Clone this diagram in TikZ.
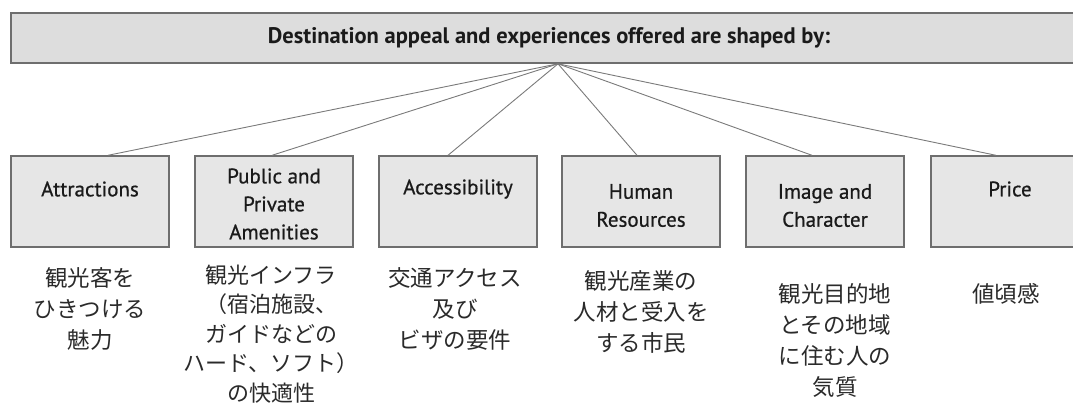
\documentclass[tikz,border=0pt]{standalone}
\usepackage{fontspec}
\setmainfont{PT Sans}
\newfontface\lblfont{PT Sans}[FakeBold=0.7]
\newfontfamily\jp{Noto Sans CJK JP}
\definecolor{boxfill}{HTML}{E6E6E6}
\definecolor{bannerfill}{HTML}{DDDDDD}
\definecolor{boxline}{HTML}{6E6E6E}
\definecolor{conn}{HTML}{7A7A7A}
\definecolor{txt}{HTML}{1A1A1A}
\definecolor{jtxt}{HTML}{2A2A2A}
\begin{document}
\begin{tikzpicture}[x=1pt,y=-1pt,
  box/.style={draw=boxline,line width=1.4pt,fill=boxfill,minimum width=158pt,minimum height=91pt,inner sep=0pt},
  banner/.style={draw=boxline,line width=1.6pt,fill=bannerfill,minimum width=1094pt,minimum height=50pt,inner sep=0pt},
  lbl/.style={align=center,text=txt,font=\lblfont\fontsize{21}{28}\selectfont,inner sep=0pt},
  jlbl/.style={align=center,text=jtxt,font=\jp\fontsize{22.5}{31}\selectfont,inner sep=0pt},
  conn/.style={draw=conn,line width=0.9pt}]
\useasboundingbox (0,0) rectangle (1073,408);
\clip (0,0) rectangle (1073,408);
\node[banner] (banner) at (558,38) {};
\node[text=txt,font=\bfseries\fontsize{22.5}{26}\selectfont,inner sep=0pt] (title) at (549,38) {Destination appeal and experiences offered are shaped by:};
\node[box] (attr) at (90,201.5) {};
\node[box] (amen) at (274,201.5) {};
\node[box] (acc) at (458,201.5) {};
\node[box] (hum) at (641,201.5) {};
\node[box] (img) at (825,201.5) {};
\node[box] (price) at (1010,201.5) {};
\node[lbl] (attrL) at (90,189) {Attractions};
\node[lbl] (amenL) at (274,204) {Public and\\Private\\Amenities};
\node[lbl] (accL) at (458,189) {Accessibility};
\node[lbl] (humL) at (641,205.5) {Human\\Resources};
\node[lbl] (imgL) at (825,205.5) {Image and\\Character};
\node[lbl] (priceL) at (1010,189) {Price};
\draw[conn] (banner.south) -- ([xshift=18pt]attr.north);
\draw[conn] (banner.south) -- ([xshift=-2pt]amen.north);
\draw[conn] (banner.south) -- ([xshift=-10pt]acc.north);
\draw[conn] (banner.south) -- ([xshift=-4pt]hum.north);
\draw[conn] (banner.south) -- ([xshift=-13pt]img.north);
\draw[conn] (banner.south) -- ([xshift=-14pt]price.north);
\node[jlbl] (attrJ) at (90,309) {観光客を\\ひきつける\\魅力};
\node[jlbl,font=\jp\fontsize{22}{29.5}\selectfont] (amenJ) at (271,334) {観光インフラ\\（宿泊施設、\\ガイドなどの\\ハード、ソフト）\\の快適性};
\node[jlbl] (accJ) at (455,309) {交通アクセス\\及び\\ビザの要件};
\node[jlbl] (humJ) at (641,312) {観光産業の\\人材と受入を\\する市民};
\node[jlbl] (imgJ) at (835,340) {観光目的地\\とその地域\\に住む人の\\気質};
\node[jlbl] (priceJ) at (1006,294) {値頃感};
\end{tikzpicture}
\end{document}
